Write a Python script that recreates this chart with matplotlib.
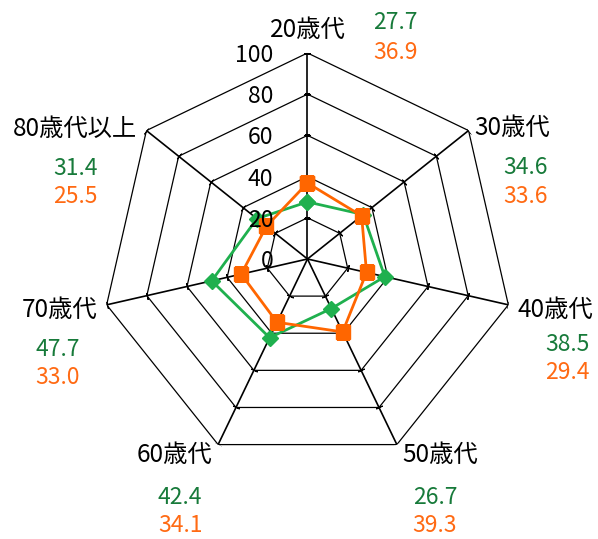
import numpy as np
import matplotlib
matplotlib.use("Agg")
import matplotlib.pyplot as plt

plt.rcParams['font.family'] = ['Noto Sans CJK JP', 'DejaVu Sans']

categories = ["20歳代", "30歳代", "40歳代", "50歳代", "60歳代", "70歳代", "80歳代以上"]
green_vals = [27.7, 34.6, 38.5, 26.7, 42.4, 47.7, 31.4]
orange_vals = [36.9, 33.6, 29.4, 39.3, 34.1, 33.0, 25.5]
rticks = [0, 20, 40, 60, 80, 100]

green_line = "#1fb04e"
green_text = "#177a3a"
orange_line = "#ff6600"
orange_text = "#ff6a13"

n = len(categories)
theta = np.arange(n) * 2 * np.pi / n

fig = plt.figure(figsize=(5.98, 5.39), dpi=100)
ax = fig.add_axes([0.1697, 0.1373, 0.689, 0.7644], projection='polar')
ax.set_theta_zero_location('N')
ax.set_theta_direction(-1)
ax.set_ylim(0, 100)
ax.grid(False)
ax.set_xticks([])
ax.set_yticks([])
ax.spines['polar'].set_visible(False)
ax.patch.set_alpha(0)

# heptagon rings + small ticks on the spokes
tc = np.append(theta, theta[0])
for r in rticks[1:]:
    ax.plot(tc, [r] * (n + 1), color='black', lw=0.9, zorder=1)
    for t in theta:
        ang = -np.degrees(t)
        ax.plot([t], [r], marker=(2, 2, ang + 90), ms=5, color='black', mew=0.8, zorder=1)

# spokes
for t in theta:
    ax.plot([t, t], [0, 100], color='black', lw=1.2, zorder=1)

# series
ax.plot(tc, green_vals + green_vals[:1], color=green_line, lw=2,
        marker='D', ms=8, zorder=3)
ax.plot(tc, orange_vals + orange_vals[:1], color=orange_line, lw=2,
        marker='s', ms=10, zorder=4)

# radial tick labels
for r in rticks:
    ax.annotate(str(r), xy=(0, r), xytext=(-34, 0), textcoords='offset pixels',
                ha='right', va='center_baseline', fontsize=16.5, annotation_clip=False, zorder=5)

# category labels and values (offsets in pixels from spoke tips)
lab_off = [(0, 26, 'center'), (6, 6, 'left'), (9, -2, 'left'), (5, -7, 'left'),
           (-6, -7, 'right'), (-9, -2, 'right'), (-9, 5, 'right')]
val_off = [(88, 33, 3), (57, -34, -63), (59, -37, -65), (38, -50, -78),
           (-38, -50, -78), (-49, -42, -70), (-71, -35, -63)]
for i in range(n):
    dx, dy, ha = lab_off[i]
    ax.annotate(categories[i], xy=(theta[i], 100), xytext=(dx, dy), textcoords='offset pixels',
                ha=ha, va='center_baseline', fontsize=17.5, annotation_clip=False)
    vx, gy, oy = val_off[i]
    ax.annotate(f"{green_vals[i]:.1f}", xy=(theta[i], 100), xytext=(vx, gy), textcoords='offset pixels',
                ha='center', va='center_baseline', fontsize=16.5, color=green_text, annotation_clip=False)
    ax.annotate(f"{orange_vals[i]:.1f}", xy=(theta[i], 100), xytext=(vx, oy), textcoords='offset pixels',
                ha='center', va='center_baseline', fontsize=16.5, color=orange_text, annotation_clip=False)

fig.savefig("out.png", dpi=100)
